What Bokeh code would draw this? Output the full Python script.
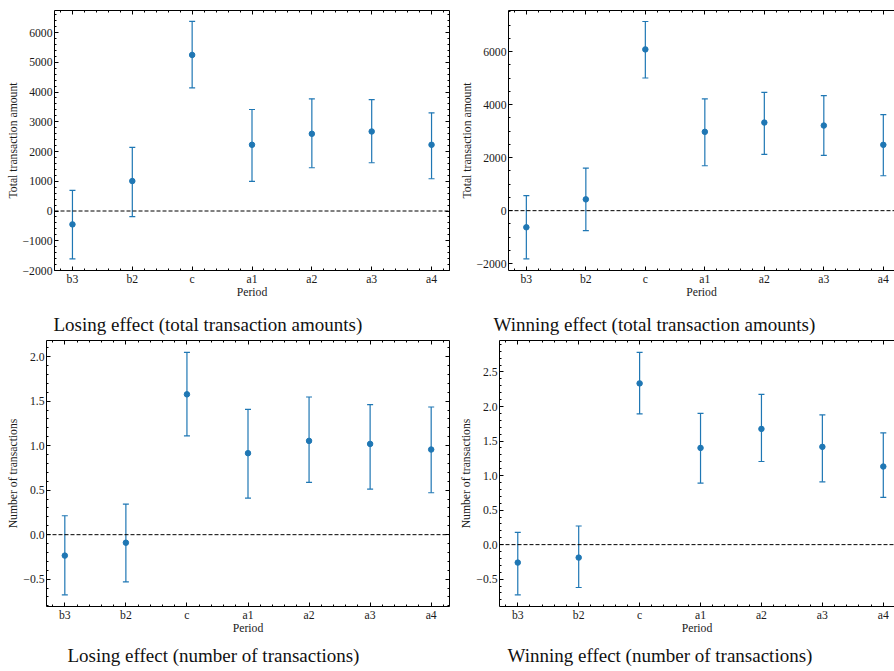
from bokeh.plotting import figure
from bokeh.layouts import column, row
from bokeh.models import (ColumnDataSource, Whisker, TeeHead, Span, Label, LinearAxis,
                          FixedTicker, Range1d)
from bokeh.embed import file_html
from bokeh.resources import INLINE

# ---- data ----
periods = ["b3", "b2", "c", "a1", "a2", "a3", "a4"]

lose_amt = [-450, 1007, 5246, 2226, 2595, 2673, 2226]
lose_amt_lo = [-1611, -190, 4139, 996, 1454, 1622, 1085]
lose_amt_hi = [694, 2136, 6376, 3412, 3770, 3747, 3300]

win_amt = [-627, 426, 6082, 2972, 3323, 3210, 2483]
win_amt_lo = [-1818, -752, 5003, 1693, 2119, 2082, 1317]
win_amt_hi = [564, 1605, 7135, 4213, 4464, 4339, 3624]

lose_n = [-0.235, -0.090, 1.577, 0.916, 1.054, 1.020, 0.957]
lose_n_lo = [-0.676, -0.531, 1.110, 0.411, 0.587, 0.512, 0.471]
lose_n_hi = [0.213, 0.344, 2.048, 1.409, 1.547, 1.461, 1.435]

win_n = [-0.260, -0.188, 2.335, 1.401, 1.676, 1.416, 1.131]
win_n_lo = [-0.727, -0.621, 1.892, 0.891, 1.204, 0.910, 0.684]
win_n_hi = [0.178, 0.270, 2.783, 1.902, 2.176, 1.878, 1.618]

amt1_ticks = [-2000, -1000, 0, 1000, 2000, 3000, 4000, 5000, 6000]
amt1_labels = ["\u22122000", "\u22121000", "0", "1000", "2000", "3000", "4000", "5000", "6000"]
amt2_ticks = [-2000, 0, 2000, 4000, 6000]
amt2_labels = ["\u22122000", "0", "2000", "4000", "6000"]
n1_ticks = [-0.5, 0.0, 0.5, 1.0, 1.5, 2.0]
n1_labels = ["\u22120.5", "0.0", "0.5", "1.0", "1.5", "2.0"]
n2_ticks = [-0.5, 0.0, 0.5, 1.0, 1.5, 2.0, 2.5]
n2_labels = ["\u22120.5", "0.0", "0.5", "1.0", "1.5", "2.0", "2.5"]

captions = ["Losing effect (total transaction amounts)",
            "Winning effect (total transaction amounts)",
            "Losing effect (number of transactions)",
            "Winning effect (number of transactions)"]

FONT = "Liberation Serif"
BLUE = "#1f77b4"
FS = "11.7px"
W = 894


def frange(a, b, step):
    out = []
    v = a
    while v <= b + 1e-9:
        out.append(round(v, 6))
        v += step
    return out


def style_axis(ax, ticker, labels=None, show_labels=True, label_standoff=2):
    ax.ticker = ticker
    ax.major_tick_in = 4
    ax.major_tick_out = 0
    ax.minor_tick_in = 2
    ax.minor_tick_out = 0
    ax.axis_line_color = "black"
    ax.axis_line_width = 1
    ax.major_tick_line_color = "black"
    ax.minor_tick_line_color = "black"
    ax.major_label_text_font = FONT
    ax.axis_label_text_font = FONT
    ax.axis_label_text_font_style = "normal"
    ax.axis_label_text_font_size = FS
    ax.major_label_text_color = "#1a1a1a"
    ax.axis_label_text_color = "#1a1a1a"
    if show_labels:
        ax.major_label_text_font_size = FS
        ax.major_label_standoff = 2
        ax.axis_label_standoff = label_standoff
        if labels is not None:
            ax.major_label_overrides = labels
    else:
        ax.major_label_text_font_size = "1px"
        ax.major_label_standoff = 0
        ax.major_label_overrides = {t: "" for t in ticker.ticks}


def panel(vals, lo, hi, y0, y1, x1, yticks, ylabels, yminor_step, ylabel,
          width, height, mbl, mbr, mbt, mbb, right_axis):
    xs = list(range(len(periods)))
    p = figure(width=width, height=height, output_backend="svg", toolbar_location=None,
               x_range=Range1d(-0.3, x1), y_range=Range1d(y0, y1),
               min_border_left=mbl, min_border_right=mbr, min_border_top=mbt,
               min_border_bottom=mbb, outline_line_color=None,
               x_axis_location=None, y_axis_location=None)
    p.xgrid.visible = False
    p.ygrid.visible = False
    p.background_fill_color = "white"
    p.border_fill_color = "white"

    xminor = frange(-0.2, 6.2, 0.2)
    yminor = frange(yticks[0] - 5 * yminor_step, yticks[-1] + 5 * yminor_step, yminor_step)

    bx = LinearAxis(axis_label="Period")
    style_axis(bx, FixedTicker(ticks=xs, minor_ticks=xminor),
               {i: c for i, c in enumerate(periods)}, label_standoff=-3)
    p.add_layout(bx, "below")
    ly = LinearAxis(axis_label=ylabel)
    style_axis(ly, FixedTicker(ticks=yticks, minor_ticks=yminor),
               {t: l for t, l in zip(yticks, ylabels)}, label_standoff=0)
    p.add_layout(ly, "left")
    tx = LinearAxis()
    style_axis(tx, FixedTicker(ticks=xs, minor_ticks=xminor), show_labels=False)
    p.add_layout(tx, "above")
    if right_axis:
        ry = LinearAxis()
        style_axis(ry, FixedTicker(ticks=yticks, minor_ticks=yminor), show_labels=False)
        p.add_layout(ry, "right")

    p.add_layout(Span(location=0, dimension="width", line_color="black",
                      line_dash="4 2", line_width=1))

    src = ColumnDataSource(dict(x=xs, y=vals, lower=lo, upper=hi))
    w = Whisker(source=src, base="x", lower="lower", upper="upper", dimension="height",
                line_color=BLUE, line_width=1.2,
                upper_head=TeeHead(size=6, line_color=BLUE, line_width=1.2),
                lower_head=TeeHead(size=6, line_color=BLUE, line_width=1.2))
    p.add_layout(w)
    p.scatter("x", "y", source=src, size=5.5, color=BLUE)
    return p


def caption_strip(height, items):
    c = figure(width=W, height=height, output_backend="svg", toolbar_location=None,
               x_range=Range1d(0, W), y_range=Range1d(0, height),
               min_border=0, outline_line_color=None,
               x_axis_location=None, y_axis_location=None)
    c.xgrid.visible = False
    c.ygrid.visible = False
    for text, x, y in items:
        c.add_layout(Label(x=x, y=y, x_units="screen", y_units="screen", text=text,
                           text_font=FONT, text_font_size="19px", text_color="#111111",
                           text_baseline="alphabetic"))
    return c


p1 = panel(lose_amt, lose_amt_lo, lose_amt_hi, -2000, 6740, 6.3, amt1_ticks, amt1_labels, 200,
           "Total transaction amount", 457, 305, 54, 8, 10, 35, True)
p2 = panel(win_amt, win_amt_lo, win_amt_hi, -2257, 7549, 6.188, amt2_ticks, amt2_labels, 500,
           "Total transaction amount", 437, 305, 49, 0, 10, 35, False)
cap1 = caption_strip(33, [(captions[0], 53, 14), (captions[1], 493, 14)])
p3 = panel(lose_n, lose_n_lo, lose_n_hi, -0.807, 2.182, 6.3, n1_ticks, n1_labels, 0.1,
           "Number of transactions", 457, 303, 46, 8, 2, 35, True)
p4 = panel(win_n, win_n_lo, win_n_hi, -0.896, 2.956, 6.184, n2_ticks, n2_labels, 0.1,
           "Number of transactions", 437, 303, 41, 0, 2, 35, False)
cap2 = caption_strip(30, [(captions[2], 67, 16), (captions[3], 507, 16)])

layout = column(row(p1, p2), cap1, row(p3, p4), cap2)
open("out.html", "w").write(file_html(layout, INLINE))
